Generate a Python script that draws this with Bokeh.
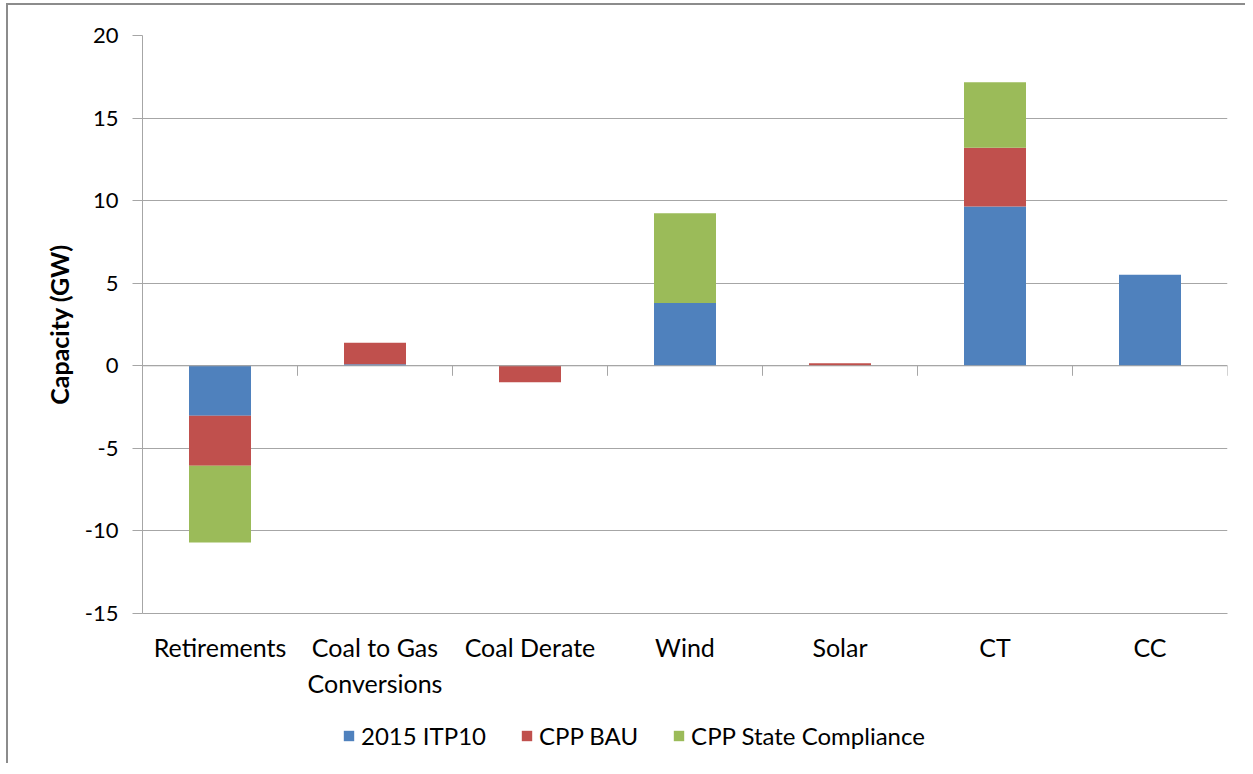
from bokeh.plotting import figure
from bokeh.layouts import column
from bokeh.models import (ColumnDataSource, Range1d, FixedTicker, Span,
                          Legend, LegendItem)
from bokeh.embed import file_html
from bokeh.resources import INLINE

categories = ["Retirements", "Coal to Gas Conversions", "Coal Derate", "Wind",
              "Solar", "CT", "CC"]
tick_labels = ["Retirements", "Coal to Gas\nConversions", "Coal Derate", "Wind",
               "Solar", "CT", "CC"]
itp10 = [-3.03, 0.10, 0.0, 3.80, 0.0, 9.65, 5.52]
cpp_bau = [-3.03, 1.30, -1.0, 0.0, 0.16, 3.55, 0.0]
cpp_state = [-4.64, 0.0, 0.0, 5.43, 0.0, 3.97, 0.0]
series_names = ["2015 ITP10", "CPP BAU", "CPP State Compliance"]
colors = ["#4F81BD", "#C0504D", "#9BBB59"]
y_ticks = [-15, -10, -5, 0, 5, 10, 15, 20]

FONT = "Lato"
GRAY = "#a6a6a6"

x = [i + 0.5 for i in range(len(categories))]

# stacking with separate positive/negative accumulation
pos = [0.0] * len(categories)
neg = [0.0] * len(categories)
stacks = []
for vals in (itp10, cpp_bau, cpp_state):
    bottoms, tops = [], []
    for i, v in enumerate(vals):
        if v >= 0:
            bottoms.append(pos[i]); tops.append(pos[i] + v); pos[i] += v
        else:
            tops.append(neg[i]); bottoms.append(neg[i] + v); neg[i] += v
    stacks.append((bottoms, tops))

p = figure(frame_width=1085, frame_height=578, output_backend="svg", toolbar_location=None,
           x_range=Range1d(0, len(categories)), y_range=Range1d(-15, 20),
           min_border_top=30, min_border_left=134, min_border_right=18,
           min_border_bottom=100)
p.outline_line_color = None
p.background_fill_color = "white"
p.border_fill_color = "white"

p.ygrid.ticker = FixedTicker(ticks=y_ticks)
p.ygrid.grid_line_color = GRAY
p.xgrid.grid_line_color = None

# zero axis line with tick marks at category boundaries
p.add_layout(Span(location=0, dimension="width", line_color=GRAY, line_width=1))
bounds = list(range(1, len(categories) + 1))
tick_len = 10 / 16.5
p.segment(x0=bounds, x1=bounds, y0=[0] * len(bounds), y1=[-tick_len] * len(bounds),
          line_color=GRAY, line_width=1)

for (b, t), c in zip(stacks, colors):
    src = ColumnDataSource(dict(x=x, bottom=b, top=t))
    p.vbar(x="x", bottom="bottom", top="top", width=0.4, source=src,
           fill_color=c, line_color=None)

# y axis
p.yaxis.ticker = FixedTicker(ticks=y_ticks)
p.yaxis.major_label_overrides = {t: str(t) for t in y_ticks}
p.yaxis.axis_label = "Capacity (GW)"
p.yaxis.axis_label_text_font = FONT
p.yaxis.axis_label_text_font_style = "bold"
p.yaxis.axis_label_text_font_size = "25px"
p.yaxis.axis_label_text_color = "black"
p.yaxis.axis_label_standoff = 8
p.yaxis.major_label_text_font = FONT
p.yaxis.major_label_text_font_size = "22px"
p.yaxis.major_label_text_color = "black"
p.yaxis.major_label_standoff = 14
p.yaxis.axis_line_color = GRAY
p.yaxis.major_tick_line_color = GRAY
p.yaxis.major_tick_out = 10
p.yaxis.major_tick_in = 0
p.yaxis.minor_tick_line_color = None

# bottom category labels
p.xaxis.ticker = FixedTicker(ticks=x)
p.xaxis.major_label_overrides = {xi: lab for xi, lab in zip(x, tick_labels)}
p.xaxis.major_label_text_font = FONT
p.xaxis.major_label_text_font_size = "25px"
p.xaxis.major_label_text_color = "black"
p.xaxis.major_label_standoff = 12
p.xaxis.axis_line_color = GRAY
p.xaxis.major_tick_line_color = None
p.xaxis.minor_tick_line_color = None

# legend strip below the chart
lf = figure(width=1237, height=50, output_backend="svg", toolbar_location=None,
            x_range=Range1d(0, 1), y_range=Range1d(0, 1), min_border=0)
lf.axis.visible = False
lf.grid.grid_line_color = None
lf.outline_line_color = None
lf_renderers = []
for c in colors:
    src = ColumnDataSource(dict(x=[-10], top=[-10]))
    lf_renderers.append(lf.vbar(x="x", top="top", width=0.1, source=src,
                                fill_color=c, line_color=None))
legend = Legend(items=[LegendItem(label=n, renderers=[r]) for n, r in zip(series_names, lf_renderers)],
                orientation="horizontal", location=(200, 13),
                label_text_font=FONT, label_text_font_size="24px",
                label_text_color="black", glyph_width=13, glyph_height=13,
                label_standoff=6, spacing=34, padding=0, margin=0,
                border_line_color=None, background_fill_alpha=0)
lf.add_layout(legend, "center")

layout = column(p, lf, spacing=0,
                styles={"margin-left": "6px", "margin-top": "3px",
                        "border-top": "2px solid #8c8c8c", "border-left": "2px solid #8c8c8c"})

open("out.html", "w").write(file_html(layout, INLINE))
